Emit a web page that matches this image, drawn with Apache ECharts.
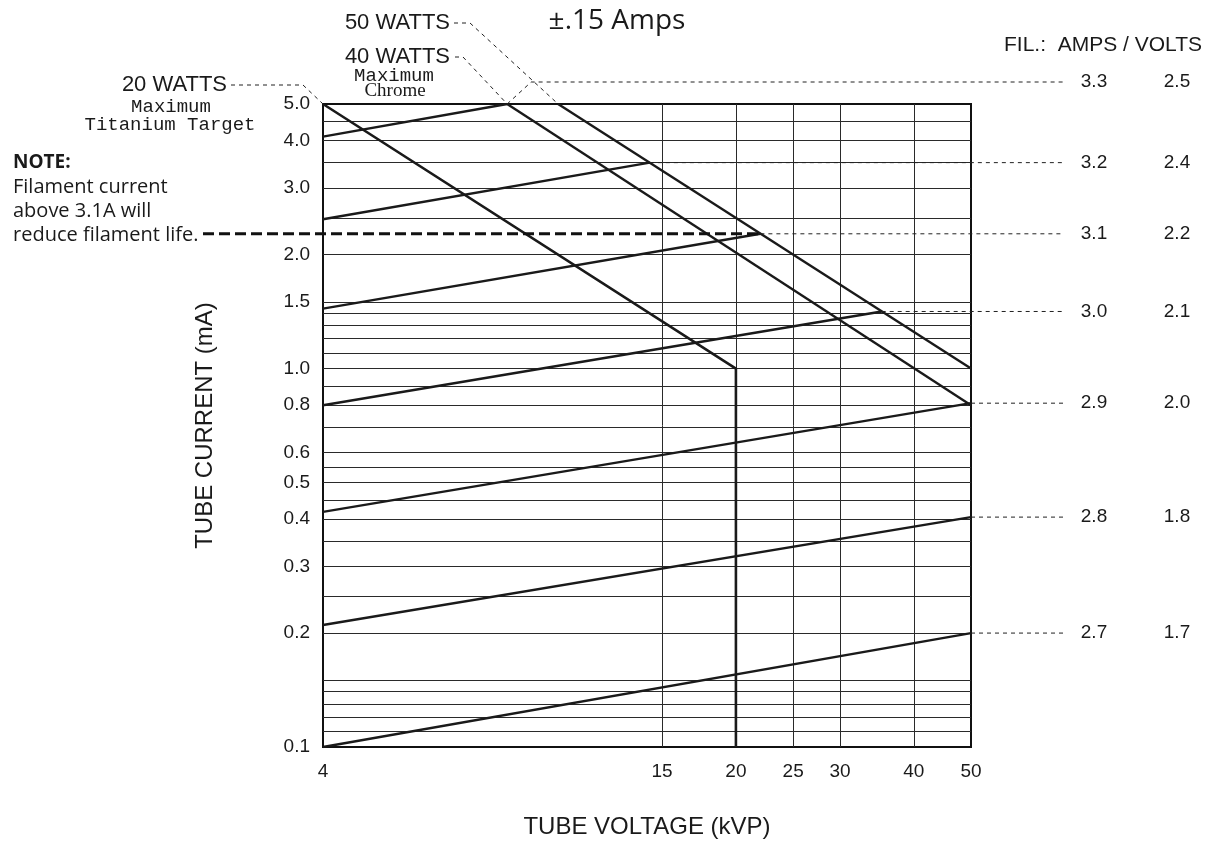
<!DOCTYPE html>
<html>
<head>
<meta charset="utf-8">
<script src="https://cdn.jsdelivr.net/npm/echarts@6/dist/echarts.min.js"></script>
<style>
  html, body { margin: 0; padding: 0; background: #fff; }
  #chart { width: 1208px; height: 844px; }
</style>
</head>
<body>
<div id="chart"></div>
<script>
// axis ticks
const xTicks = [4, 15, 20, 25, 30, 40, 50];
const yTicks = [0.1, 0.2, 0.3, 0.4, 0.5, 0.6, 0.8, 1.0, 1.5, 2.0, 3.0, 4.0, 5.0];
// ruled lines of the chart paper
const xGridLines = [15, 20, 25, 30, 40];
const yGridLines = [0.11, 0.12, 0.13, 0.14, 0.15, 0.2, 0.25, 0.3, 0.35, 0.4, 0.45, 0.5, 0.55,
  0.6, 0.7, 0.8, 0.9, 1.0, 1.1, 1.2, 1.3, 1.4, 1.5, 2.0, 2.5, 3.0, 3.5, 4.0, 4.5];

// power limits, [kV, mA]
const watts20 = [[4, 5.0], [20, 1.0], [20, 0.1]];
const watts40 = [[8.2, 5.0], [50, 0.8]];
const watts50 = [[10, 5.0], [50, 1.0]];

// filament lines, [kV, mA]
const filAmps = ['3.3', '3.2', '3.1', '3.0', '2.9', '2.8', '2.7'];
const filVolts = ['2.5', '2.4', '2.2', '2.1', '2.0', '1.8', '1.7'];
const fil33 = [[4, 4.1], [8.2, 5.0]];
const fil32 = [[4, 2.48], [14.3, 3.5]];
const fil31 = [[4, 1.44], [22, 2.27]];
const fil30 = [[4, 0.8], [35.3, 1.415]];
const fil29 = [[4, 0.418], [50, 0.81]];
const fil28 = [[4, 0.21], [50, 0.405]];
const fil27 = [[4, 0.1], [50, 0.2]];
const filLines = [fil33, fil32, fil31, fil30, fil29, fil28, fil27];

const noteLines = ['Filament current', 'above 3.1A will', 'reduce filament life.'];

const chart = echarts.init(document.getElementById('chart'));

const numFont = "'Liberation Sans', Arial, sans-serif";
const monoFont = "19px 'Liberation Mono', 'DejaVu Sans Mono', monospace";
const ink = '#1a1a1a';

function curve(data, width) {
  return {
    type: 'line', data, symbol: 'none', silent: true, z: 5,
    lineStyle: { color: ink, width: width || 2.4 }
  };
}

const option = {
  animation: false,
  backgroundColor: '#fff',
  grid: { left: 323, right: 237, top: 104, bottom: 94, show: true, borderColor: '#111', borderWidth: 2 },
  xAxis: {
    type: 'log', logBase: 10, min: 4, max: 50,
    name: 'TUBE VOLTAGE (kVP)', nameLocation: 'middle', nameGap: 68,
    nameTextStyle: { fontFamily: numFont, fontSize: 24, color: ink },
    axisLine: { show: false }, axisTick: { show: false }, splitLine: { show: false },
    axisLabel: { customValues: xTicks, fontFamily: numFont, fontSize: 19, color: ink, margin: 15 }
  },
  yAxis: {
    type: 'log', logBase: 10, min: 0.1, max: 5,
    name: 'TUBE CURRENT (mA)', nameLocation: 'middle', nameGap: 106, nameRotate: 90,
    nameTextStyle: { fontFamily: numFont, fontSize: 24, color: ink },
    axisLine: { show: false }, axisTick: { show: false }, splitLine: { show: false },
    axisLabel: {
      customValues: yTicks, fontFamily: numFont, fontSize: 19, color: ink, margin: 13,
      formatter: (v) => Number(v).toFixed(1)
    }
  },
  series: [
    Object.assign(curve(watts20, 2.6), {
      markLine: {
        silent: true, symbol: 'none', label: { show: false }, z: 1,
        lineStyle: { color: '#2a2a2a', width: 1, type: 'solid' },
        data: yGridLines.map(v => ({ yAxis: v })).concat(xGridLines.map(v => ({ xAxis: v })))
      }
    }),
    curve(watts40),
    curve(watts50)
  ].concat(filLines.map(d => curve(d)))
};
chart.setOption(option);

// annotations anchored to data points
const px = (p) => chart.convertToPixel({ gridIndex: 0 }, p);
const dash = { stroke: '#222', lineWidth: 1, lineDash: [4, 4], fill: null };
const g = [];
function text(t, x, y, font, align) {
  g.push({ type: 'text', z: 10, style: { text: t, x, y, font, fill: ink, align: align || 'left', verticalAlign: 'middle' } });
}
function leader(points, style) {
  g.push({ type: 'polyline', z: 9, silent: true, shape: { points }, style: Object.assign({}, dash, style || {}) });
}

// title + column header
text('±.15 Amps', 617, 21, "28px 'Open Sans', 'Liberation Sans', sans-serif", 'center');
text('FIL.:  AMPS / VOLTS', 1202, 45, "21px " + numFont, 'right');

// filament leaders and labels
filLines.forEach((d, i) => {
  const end = px(d[d.length - 1]);
  let y = end[1];
  if (i === 0) {
    y = end[1] - 22;
    leader([end, [end[0] + 24, y], [1063, y]]);
  } else {
    leader([end, [1063, y]]);
  }
  text(filAmps[i], 1094, y, "19px " + numFont, 'center');
  text(filVolts[i], 1177, y, "19px " + numFont, 'center');
});

// wattage labels
const top50 = px(watts50[0]);
const top40 = px(watts40[0]);
const top20 = px(watts20[0]);
text('50 WATTS', 450, 23, "22px " + numFont, 'right');
leader([[454, 23], [470, 23], top50]);
text('40 WATTS', 450, 57, "22px " + numFont, 'right');
leader([[455, 57], [463, 57], top40]);
text('Maximum', 394, 76, monoFont, 'center');
text('Chrome', 395, 91, "19px 'Liberation Serif', serif", 'center');
text('20 WATTS', 227, 85, "22px " + numFont, 'right');
leader([[231, 85], [303, 85], top20]);
text('Maximum', 171, 107, monoFont, 'center');
text('Titanium Target', 170, 125, monoFont, 'center');

// note about filament life
const noteFont = "'Open Sans', 'Liberation Sans', sans-serif";
text('NOTE:', 13, 163, "bold 19px " + noteFont, 'left');
noteLines.forEach((t, i) => text(t, 13, 187 + i * 24, "20px " + noteFont, 'left'));
const f31 = px(fil31[fil31.length - 1]);
leader([[203, f31[1]], [f31[0] - 2, f31[1]]], { stroke: '#111', lineWidth: 3, lineDash: [11, 5] });

chart.setOption({ graphic: g });
</script>
</body>
</html>
